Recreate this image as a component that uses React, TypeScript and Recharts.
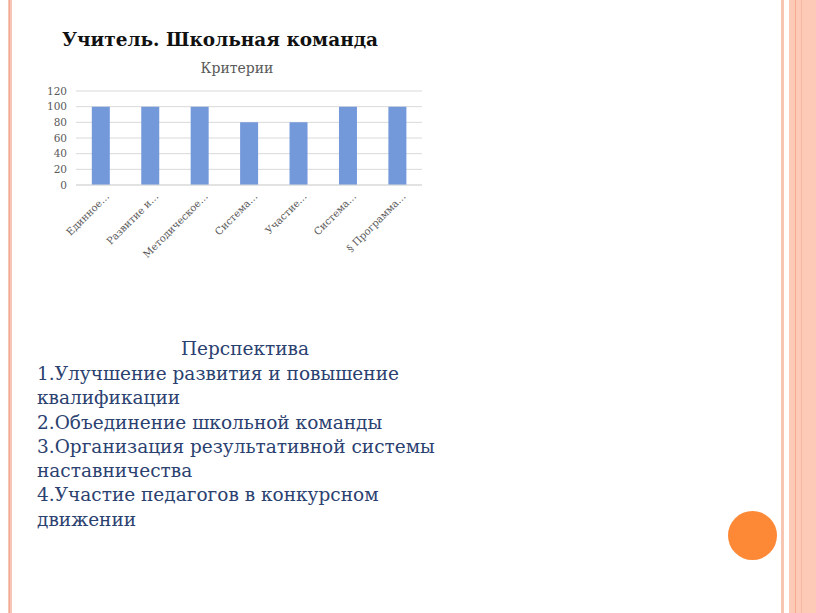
import React from 'react';
import { BarChart, Bar, XAxis, YAxis, CartesianGrid } from 'recharts';

const categories = [
  'Единное…',
  'Развитие и…',
  'Методическое…',
  'Система…',
  'Участие…',
  'Система…',
  '§ Программа…',
];
const values = [100, 100, 100, 80, 80, 100, 100];
const yTicks = [0, 20, 40, 60, 80, 100, 120];
const edgeTicks = [0, 1, 2, 3, 4, 5, 6, 7];

const perspectiveLines = [
  '1.Улучшение развития и повышение',
  'квалификации',
  '2.Объединение школьной команды',
  '3.Организация результативной системы',
  'наставничества',
  '4.Участие педагогов в конкурсном',
  'движении',
];

const data = categories.map((name, i) => ({ name, value: values[i], idx: i + 0.5 }));

const serif = '"DejaVu Serif", "Liberation Serif", serif';

function RotatedTick(props: any) {
  const { x, y, payload } = props;
  return (
    <text
      transform={`translate(${x + 9},${y + 4}) rotate(-45)`}
      textAnchor="end"
      fontSize={10}
      fontFamily={serif}
      fill="#595959"
    >
      {payload.value}
    </text>
  );
}

// small tick marks between the categories
function EdgeTick(props: any) {
  const { x, y } = props;
  return <line x1={x} x2={x} y1={y} y2={y + 5} stroke="#c8c8c8" />;
}

export default function App() {
  return (
    <div
      style={{
        position: 'absolute',
        left: 0,
        top: 0,
        width: 816,
        height: 613,
        background: '#fff',
        overflow: 'hidden',
        fontFamily: serif,
      }}
    >
      {/* left border */}
      <div style={{ position: 'absolute', left: 8, top: 0, width: 4, height: 613, background: '#f8c6b6' }} />
      <div style={{ position: 'absolute', left: 9, top: 0, width: 1, height: 613, background: '#f2a994' }} />
      {/* right border */}
      <div style={{ position: 'absolute', left: 781, top: 0, width: 3, height: 613, background: '#f9c5b3' }} />
      <div style={{ position: 'absolute', left: 789, top: 0, width: 27, height: 613, background: '#fdcab7' }} />
      <div style={{ position: 'absolute', left: 795, top: 0, width: 1, height: 613, background: '#f3ab92' }} />
      <div style={{ position: 'absolute', left: 801, top: 0, width: 1, height: 613, background: '#f5b7a0' }} />
      {/* orange dot */}
      <div
        style={{
          position: 'absolute',
          left: 728,
          top: 511,
          width: 49,
          height: 49,
          borderRadius: '50%',
          background: '#fd8937',
        }}
      />

      <div
        style={{
          position: 'absolute',
          left: 62,
          top: 29,
          fontSize: 18.5,
          fontWeight: 'bold',
          color: '#111',
          whiteSpace: 'nowrap',
        }}
      >
        Учитель. Школьная команда
      </div>
      <div
        style={{
          position: 'absolute',
          left: 137,
          width: 200,
          top: 60,
          textAlign: 'center',
          fontSize: 14,
          color: '#595959',
        }}
      >
        Критерии
      </div>

      <div style={{ position: 'absolute', left: 0, top: 0 }}>
        <BarChart
          width={440}
          height={270}
          data={data}
          margin={{ top: 91, right: 18, bottom: 15, left: 0 }}
          barCategoryGap="32%"
        >
          <CartesianGrid vertical={false} stroke="#d9d9d9" />
          <XAxis
            xAxisId="edges"
            type="number"
            dataKey="idx"
            domain={[0, 7]}
            ticks={edgeTicks}
            interval={0}
            tick={<EdgeTick />}
            tickLine={false}
            axisLine={false}
            tickSize={0}
            tickMargin={0}
            height={0}
          />
          <XAxis
            dataKey="name"
            interval={0}
            tick={<RotatedTick />}
            tickLine={false}
            axisLine={{ stroke: '#d9d9d9' }}
            height={70}
          />
          <YAxis
            domain={[0, 120]}
            ticks={yTicks}
            interval={0}
            width={76}
            axisLine={false}
            tickLine={false}
            tickMargin={3}
            tick={{ fontSize: 10.5, fill: '#595959', fontFamily: serif }}
          />
          <Bar dataKey="value" fill="#7399db" isAnimationActive={false} />
        </BarChart>
      </div>

      <div
        style={{
          position: 'absolute',
          left: 145,
          width: 200,
          top: 338,
          textAlign: 'center',
          fontSize: 18.5,
          color: '#2b4170',
        }}
      >
        Перспектива
      </div>
      <div
        style={{
          position: 'absolute',
          left: 37,
          top: 362,
          fontSize: 18.5,
          lineHeight: '24.3px',
          color: '#2b4170',
          whiteSpace: 'nowrap',
        }}
      >
        {perspectiveLines.map((l, i) => (
          <div key={i}>{l}</div>
        ))}
      </div>
    </div>
  );
}
